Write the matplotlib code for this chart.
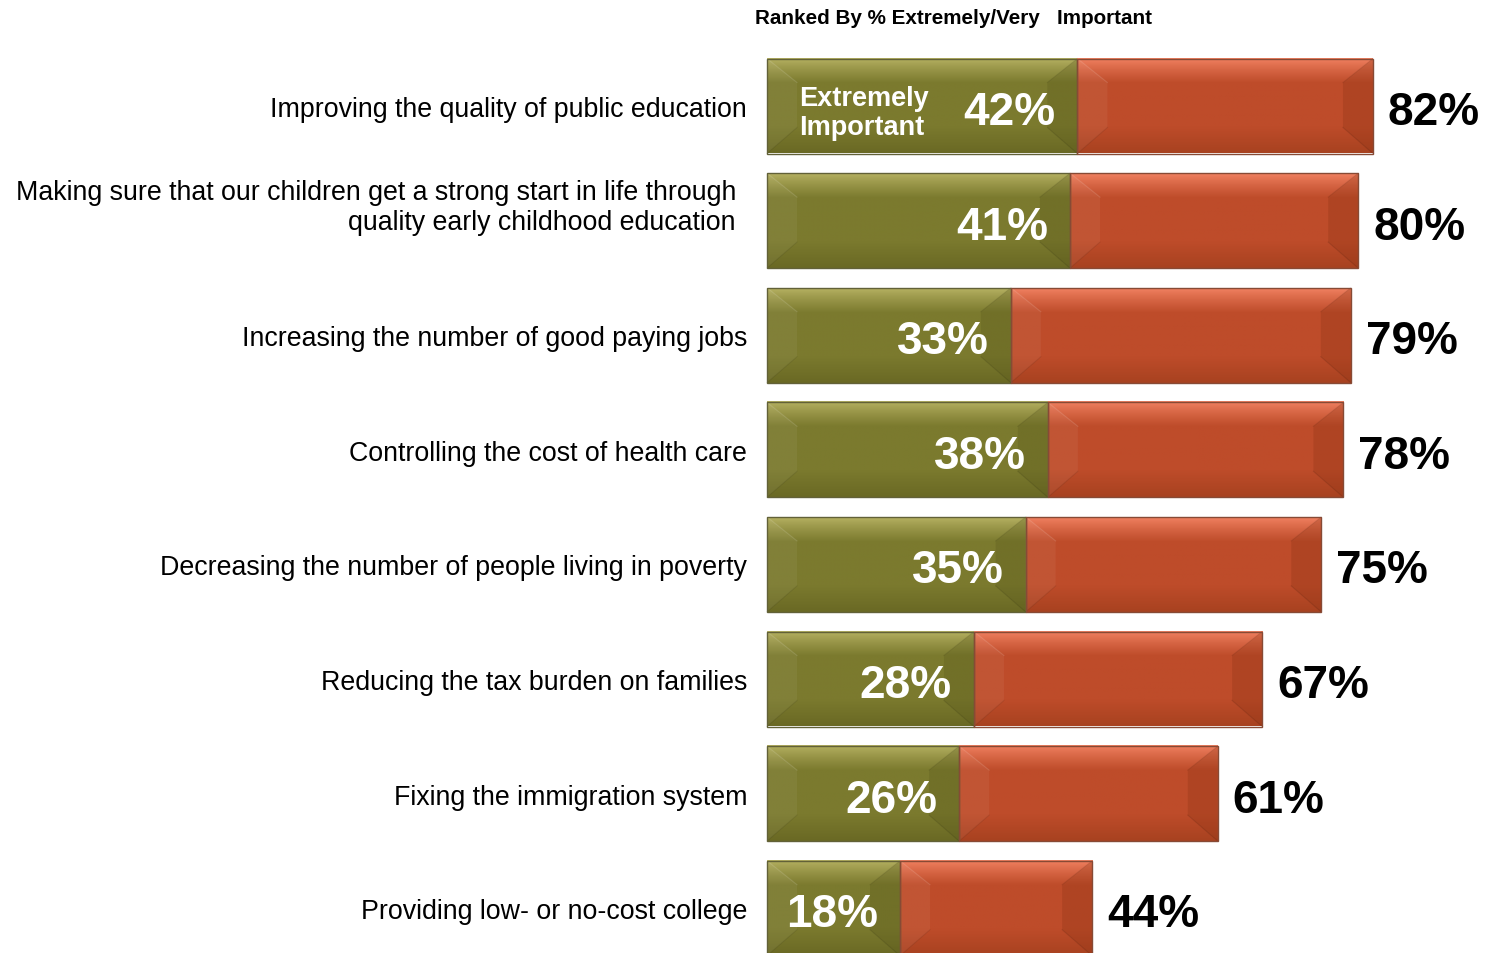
import matplotlib
matplotlib.use("Agg")
import matplotlib.pyplot as plt
import numpy as np
from matplotlib.patches import Polygon, Rectangle
from matplotlib.colors import to_rgb

categories = [
    "Improving the quality of public education",
    "Making sure that our children get a strong start in life through\nquality early childhood education",
    "Increasing the number of good paying jobs",
    "Controlling the cost of health care",
    "Decreasing the number of people living in poverty",
    "Reducing the tax burden on families",
    "Fixing the immigration system",
    "Providing low- or no-cost college",
]
extremely = [42, 41, 33, 38, 35, 28, 26, 18]
total = [82, 80, 79, 78, 75, 67, 61, 44]
title = "Ranked By % Extremely/Very   Important"
inner_label = "Extremely\nImportant"

plt.rcParams["font.family"] = ["Liberation Sans", "DejaVu Sans"]

W, H = 1496, 954
fig = plt.figure(figsize=(W / 100, H / 100), dpi=100)
ax = fig.add_axes([0, 0, 1, 1])
PX_PER_PCT = 7.39
X0_PX = 767
ROW_PX = 114.6
Y0_PX = 107
ax.set_xlim(-X0_PX / PX_PER_PCT, (W - X0_PX) / PX_PER_PCT)
ax.set_ylim((H - Y0_PX) / ROW_PX, -Y0_PX / ROW_PX)
ax.axis("off")

dx = 1 / PX_PER_PCT
dy = 1 / ROW_PX
bar_h = 95 * dy


def mix(c1, c2, t):
    c1, c2 = np.array(to_rgb(c1)), np.array(to_rgb(c2))
    return c1 * (1 - t) + c2 * t


def bevel_bar(x0, x1, yc, main, light, dark, rdark):
    yt, yb = yc - bar_h / 2, yc + bar_h / 2
    n = 100
    t = np.linspace(0, 1, n)
    rows = []
    for v in t:
        if v < 0.26:
            rows.append(mix(light, main, (v / 0.26) ** 0.8))
        elif v < 0.72:
            rows.append(mix(main, main, 0))
        else:
            rows.append(mix(main, dark, (v - 0.72) / 0.28))
    img = np.array(rows).reshape(n, 1, 3)
    ax.imshow(img, extent=(x0, x1, yb, yt), origin="upper", aspect="auto",
              interpolation="bilinear", zorder=2)
    bw = min(30 * dx, (x1 - x0) * 0.3)
    bt, bb = 24 * dy, 26 * dy
    left = Polygon([(x0, yt), (x0 + bw, yt + bt), (x0 + bw, yb - bb), (x0, yb)],
                   closed=True, facecolor=(1, 1, 1, 0.05), edgecolor="none",
                   zorder=3)
    right = Polygon([(x1, yt), (x1 - bw, yt + bt), (x1 - bw, yb - bb), (x1, yb)],
                    closed=True, facecolor=(*to_rgb(rdark), 0.3), edgecolor="none",
                    zorder=3)
    ax.add_patch(left)
    ax.add_patch(right)
    for (xa, ya, xb, yb2, col) in [
        (x0, yt, x0 + bw, yt + bt, (1, 1, 1, 0.12)),
        (x0, yb, x0 + bw, yb - bb, (0, 0, 0, 0.08)),
        (x1, yt, x1 - bw, yt + bt, (0, 0, 0, 0.08)),
        (x1, yb, x1 - bw, yb - bb, (0, 0, 0, 0.10)),
    ]:
        ax.plot([xa, xb], [ya, yb2], color=col, lw=0.8, zorder=3)
    ax.add_patch(Rectangle((x0, yt), x1 - x0, bar_h, facecolor="none",
                           edgecolor=mix(dark, "#555555", 0.4), lw=1.0, zorder=4))


G_MAIN, G_LIGHT, G_DARK, G_RD = "#7B7A2E", "#B8B364", "#6A6924", "#5A591C"
O_MAIN, O_LIGHT, O_DARK, O_RD = "#BE4C2A", "#F38363", "#A84220", "#8E3415"

for i, (cat, e, tot) in enumerate(zip(categories, extremely, total)):
    bevel_bar(0, e, i, G_MAIN, G_LIGHT, G_DARK, G_RD)
    bevel_bar(e, tot, i, O_MAIN, O_LIGHT, O_DARK, O_RD)
    ax.text(e - 22 * dx, i + 6 * dy, f"{e}%", ha="right", va="center",
            fontsize=33, fontweight="bold", color="white", zorder=5)
    ax.text(tot + 15 * dx, i + 6 * dy, f"{tot}%", ha="left", va="center",
            fontsize=33, fontweight="bold", color="black", zorder=5)
    if "\n" in cat:
        ax.text(-31 * dx, i - 14 * dy, cat, ha="right", va="center", fontsize=19.3,
                color="black", multialignment="right", linespacing=1.2, zorder=5)
    else:
        ax.text(-20 * dx, i + 3 * dy, cat, ha="right", va="center", fontsize=19.3,
                color="black", zorder=5)

ax.text(32 * dx, 0 + 7 * dy, inner_label, ha="left", va="center", fontsize=19.5,
        fontweight="bold", color="white", linespacing=1.15, zorder=5)

fig.text(755 / W, 1 - 19 / H, title, ha="left", va="center", fontsize=14.9,
         fontweight="bold", color="black")

fig.savefig("out.png", dpi=100)
